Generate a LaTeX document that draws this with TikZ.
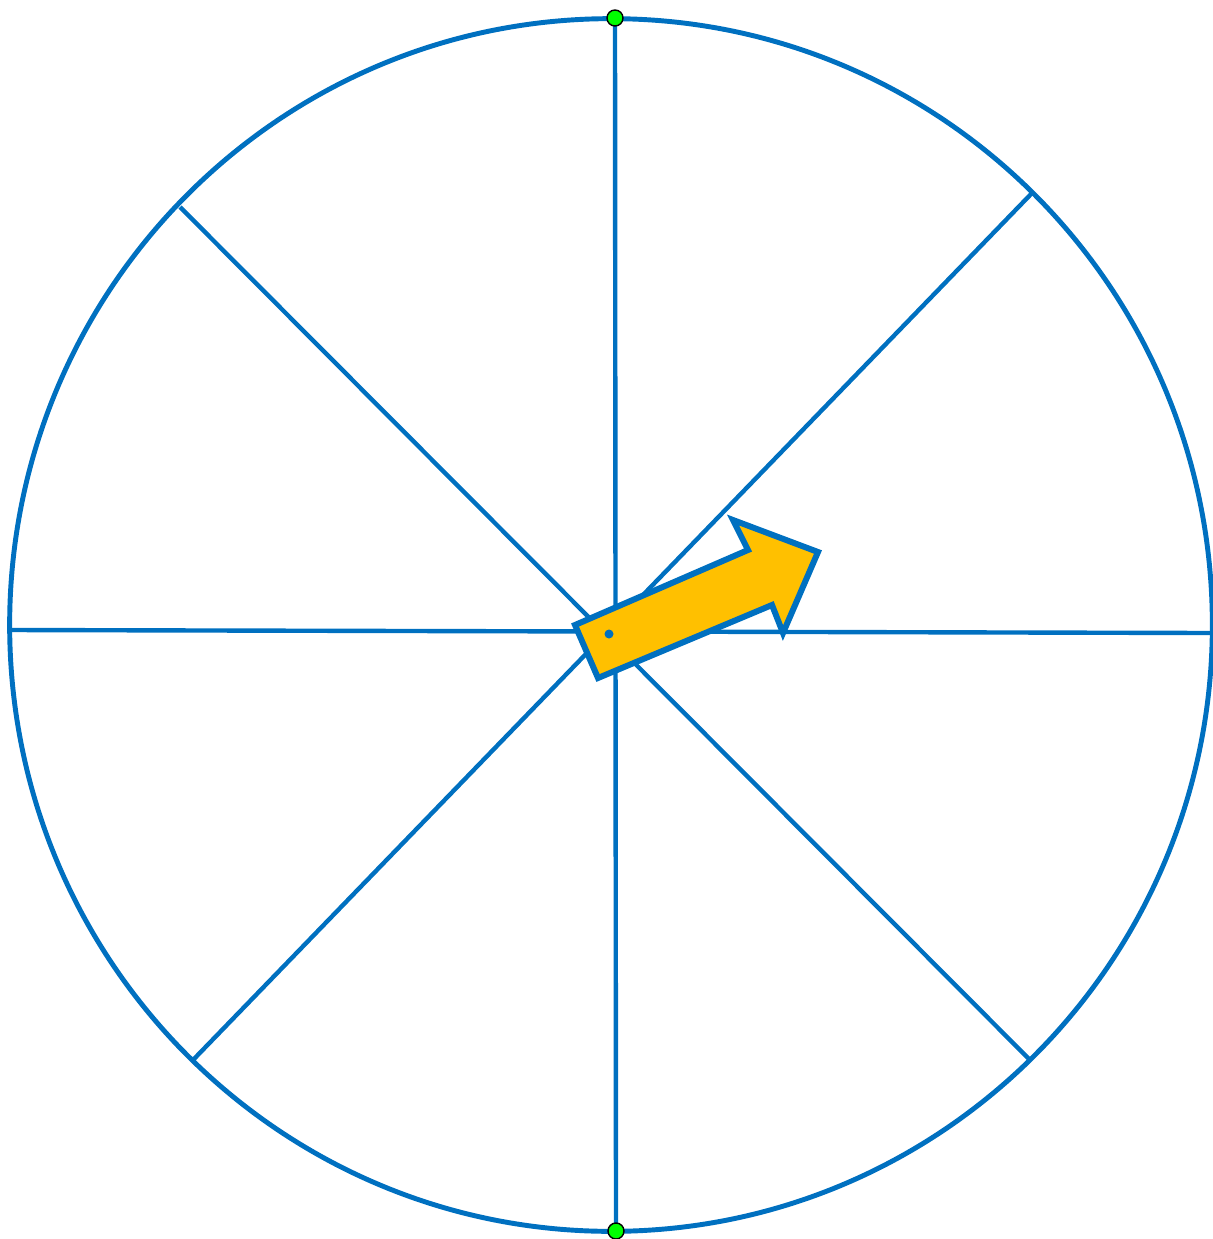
\documentclass[tikz,border=0pt]{standalone}
\usetikzlibrary{positioning}
\definecolor{WheelBlue}{HTML}{0070C0}
\definecolor{PointerGold}{HTML}{FFC000}
\definecolor{PinGreen}{HTML}{00FF00}
\tikzset{
  wheelrim/.style={draw=WheelBlue,line width=1.4pt},
  wheelspoke/.style={draw=WheelBlue,line width=1.25pt},
  pointer/.style={draw=WheelBlue,fill=PointerGold,line width=1.7pt,line join=miter},
  pinmark/.style={circle,fill=PinGreen,draw=black,line width=0.4pt,inner sep=0pt,minimum size=0.16cm}
}
\begin{document}
\begin{tikzpicture}[x=0.01cm,y=-0.01cm]
  \useasboundingbox (0,0) rectangle (1213,1239);
  \coordinate (hub) at (611,625);
  % spoke ends
  \coordinate (top) at (615,18);
  \coordinate (bottom) at (616,1231);
  \coordinate (west) at (10,630);
  \coordinate (east) at (1212,633);
  \coordinate (nw) at (180,207);
  \coordinate (ne) at (1033,192);
  \coordinate (sw) at (193,1060);
  \coordinate (se) at (1030,1060);

  \draw[wheelrim] (hub) ellipse [x radius=6.01cm, y radius=6.06cm];
  \draw[wheelspoke] (top) -- (bottom);
  \draw[wheelspoke] (west) -- (east);
  \draw[wheelspoke] (nw) -- (se);
  \draw[wheelspoke] (ne) -- (sw);

  % pointer
  \draw[pointer] (575,625) -- (748,550) -- (733,520) -- (818,552)
    -- (783,633) -- (772,605) -- (598,678) -- cycle;
  \fill[WheelBlue] (609,634) circle [radius=0.045cm];

  \node[pinmark] (pintop) at (top) {};
  \node[pinmark] (pinbottom) at (bottom) {};
\end{tikzpicture}
\end{document}
